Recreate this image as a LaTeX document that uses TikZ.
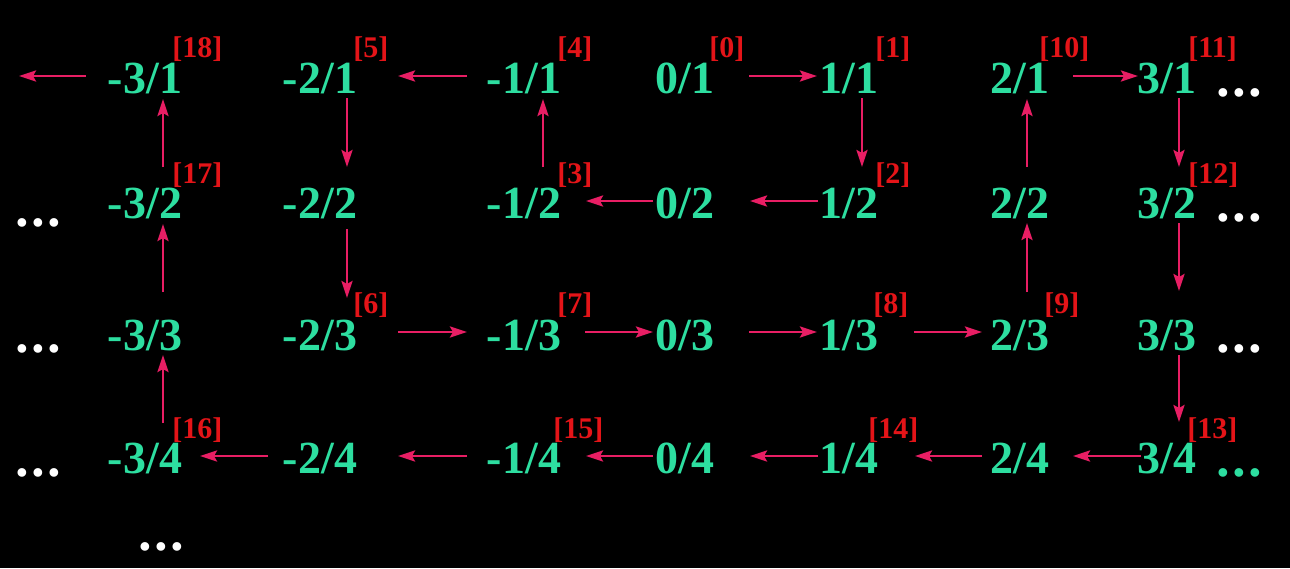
\documentclass[tikz,border=0pt]{standalone}
\usepackage{fontspec}
\setmainfont{Liberation Serif}
\usetikzlibrary{arrows.meta}
\definecolor{fracgreen}{RGB}{45,222,160}
\definecolor{labred}{RGB}{228,20,24}
\definecolor{arrpink}{RGB}{232,30,100}
\newcommand{\mydots}{•\hspace{2.4pt}•\hspace{2.4pt}•}
\tikzset{
  frac/.style={inner sep=0pt, anchor=base, text=fracgreen, font=\fontsize{23pt}{23pt}\selectfont\bfseries},
  lab/.style={inner sep=0pt, anchor=base west, text=labred, font=\fontsize{15pt}{15pt}\selectfont\bfseries},
  dots/.style={inner sep=0pt, anchor=center, text=white, font=\fontsize{16pt}{16pt}\selectfont\bfseries},
  arr/.style={draw=arrpink, line width=1.4pt, -{Stealth[length=8.5pt,width=5.5pt,inset=1.5pt]}}
}
\begin{document}
\begin{tikzpicture}[x=0.5pt,y=-0.5pt]
\fill[black] (0,0) rectangle (1290,568);
\useasboundingbox (0,0) rectangle (1290,568);
% row 1
\node[frac] (a1) at (145,93) {-3/1};
\node[frac] (b1) at (320,93) {-2/1};
\node[frac] (c1) at (524,93) {-1/1};
\node[frac] (d1) at (685,93) {0/1};
\node[frac] (e1) at (849,93) {1/1};
\node[frac] (f1) at (1020,93) {2/1};
\node[frac] (g1) at (1167,93) {3/1};
% row 2
\node[frac] (a2) at (145,218) {-3/2};
\node[frac] (b2) at (320,218) {-2/2};
\node[frac] (c2) at (524,218) {-1/2};
\node[frac] (d2) at (685,218) {0/2};
\node[frac] (e2) at (849,218) {1/2};
\node[frac] (f2) at (1020,218) {2/2};
\node[frac] (g2) at (1167,218) {3/2};
% row 3
\node[frac] (a3) at (145,350) {-3/3};
\node[frac] (b3) at (320,350) {-2/3};
\node[frac] (c3) at (524,350) {-1/3};
\node[frac] (d3) at (685,350) {0/3};
\node[frac] (e3) at (849,350) {1/3};
\node[frac] (f3) at (1020,350) {2/3};
\node[frac] (g3) at (1167,350) {3/3};
% row 4
\node[frac] (a4) at (145,473) {-3/4};
\node[frac] (b4) at (320,473) {-2/4};
\node[frac] (c4) at (524,473) {-1/4};
\node[frac] (d4) at (685,473) {0/4};
\node[frac] (e4) at (849,473) {1/4};
\node[frac] (f4) at (1020,473) {2/4};
\node[frac] (g4) at (1167,473) {3/4};
% dots
\node[dots] (dr1) at (1239,96) {\mydots};
\node[dots] (dr2) at (1239,221) {\mydots};
\node[dots] (dr3) at (1239,352) {\mydots};
\node[dots, text=fracgreen] (dr4) at (1239,476) {\mydots};
\node[dots] (dl2) at (38,226) {\mydots};
\node[dots] (dl3) at (38,352) {\mydots};
\node[dots] (dl4) at (38,476) {\mydots};
\node[dots] (db) at (161,550) {\mydots};
% labels
\node[lab] (l18) at ([shift={(27,-36)}]a1.base) {[18]};
\node[lab] (l5) at ([shift={(33,-36)}]b1.base) {[5]};
\node[lab] (l4) at ([shift={(33,-36)}]c1.base) {[4]};
\node[lab] (l0) at ([shift={(24,-36)}]d1.base) {[0]};
\node[lab] (l1) at ([shift={(26,-36)}]e1.base) {[1]};
\node[lab] (l10) at ([shift={(19,-36)}]f1.base) {[10]};
\node[lab] (l11) at ([shift={(21,-36)}]g1.base) {[11]};
\node[lab] (l17) at ([shift={(27,-35)}]a2.base) {[17]};
\node[lab] (l3) at ([shift={(33,-35)}]c2.base) {[3]};
\node[lab] (l2) at ([shift={(26,-35)}]e2.base) {[2]};
\node[lab] (l12) at ([shift={(21,-35)}]g2.base) {[12]};
\node[lab] (l6) at ([shift={(33,-37)}]b3.base) {[6]};
\node[lab] (l7) at ([shift={(33,-37)}]c3.base) {[7]};
\node[lab] (l8) at ([shift={(24,-37)}]e3.base) {[8]};
\node[lab] (l9) at ([shift={(24,-37)}]f3.base) {[9]};
\node[lab] (l16) at ([shift={(27,-35)}]a4.base) {[16]};
\node[lab] (l15) at ([shift={(29,-35)}]c4.base) {[15]};
\node[lab] (l14) at ([shift={(19,-35)}]e4.base) {[14]};
\node[lab] (l13) at ([shift={(20,-35)}]g4.base) {[13]};
% free end
\coordinate (leftend) at (19,76);
% horizontal arrows
\draw[arr] ([shift={(-59,-17)}]a1.base) -- (leftend);
\draw[arr] ([shift={(-57,-17)}]c1.base) -- ([shift={(78,-17)}]b1.base);
\draw[arr] ([shift={(64,-17)}]d1.base) -- ([shift={(-32,-17)}]e1.base);
\draw[arr] ([shift={(53,-17)}]f1.base) -- ([shift={(-29,-17)}]g1.base);
\draw[arr] ([shift={(-32,-17)}]d2.base) -- ([shift={(62,-17)}]c2.base);
\draw[arr] ([shift={(-31,-17)}]e2.base) -- ([shift={(65,-17)}]d2.base);
\draw[arr] ([shift={(78,-18)}]b3.base) -- ([shift={(-57,-18)}]c3.base);
\draw[arr] ([shift={(61,-18)}]c3.base) -- ([shift={(-32,-18)}]d3.base);
\draw[arr] ([shift={(64,-18)}]d3.base) -- ([shift={(-32,-18)}]e3.base);
\draw[arr] ([shift={(65,-18)}]e3.base) -- ([shift={(-38,-18)}]f3.base);
\draw[arr] ([shift={(-52,-17)}]b4.base) -- ([shift={(55,-17)}]a4.base);
\draw[arr] ([shift={(-57,-17)}]c4.base) -- ([shift={(78,-17)}]b4.base);
\draw[arr] ([shift={(-32,-17)}]d4.base) -- ([shift={(62,-17)}]c4.base);
\draw[arr] ([shift={(-31,-17)}]e4.base) -- ([shift={(65,-17)}]d4.base);
\draw[arr] ([shift={(-38,-17)}]f4.base) -- ([shift={(66,-17)}]e4.base);
\draw[arr] ([shift={(-26,-17)}]g4.base) -- ([shift={(53,-17)}]f4.base);
% vertical arrows
\draw[arr] ([shift={(18,-51)}]a2.base) -- ([shift={(18,6)}]a1.base);
\draw[arr] ([shift={(18,-58)}]a3.base) -- ([shift={(18,6)}]a2.base);
\draw[arr] ([shift={(18,-50)}]a4.base) -- ([shift={(18,5)}]a3.base);
\draw[arr] ([shift={(27,5)}]b1.base) -- ([shift={(27,-51)}]b2.base);
\draw[arr] ([shift={(27,11)}]b2.base) -- ([shift={(27,-52)}]b3.base);
\draw[arr] ([shift={(19,-51)}]c2.base) -- ([shift={(19,6)}]c1.base);
\draw[arr] ([shift={(13,5)}]e1.base) -- ([shift={(13,-51)}]e2.base);
\draw[arr] ([shift={(7,-51)}]f2.base) -- ([shift={(7,6)}]f1.base);
\draw[arr] ([shift={(7,-58)}]f3.base) -- ([shift={(7,5)}]f2.base);
\draw[arr] ([shift={(12,5)}]g1.base) -- ([shift={(12,-51)}]g2.base);
\draw[arr] ([shift={(12,5)}]g2.base) -- ([shift={(12,-59)}]g3.base);
\draw[arr] ([shift={(12,5)}]g3.base) -- ([shift={(12,-51)}]g4.base);
\end{tikzpicture}
\end{document}
